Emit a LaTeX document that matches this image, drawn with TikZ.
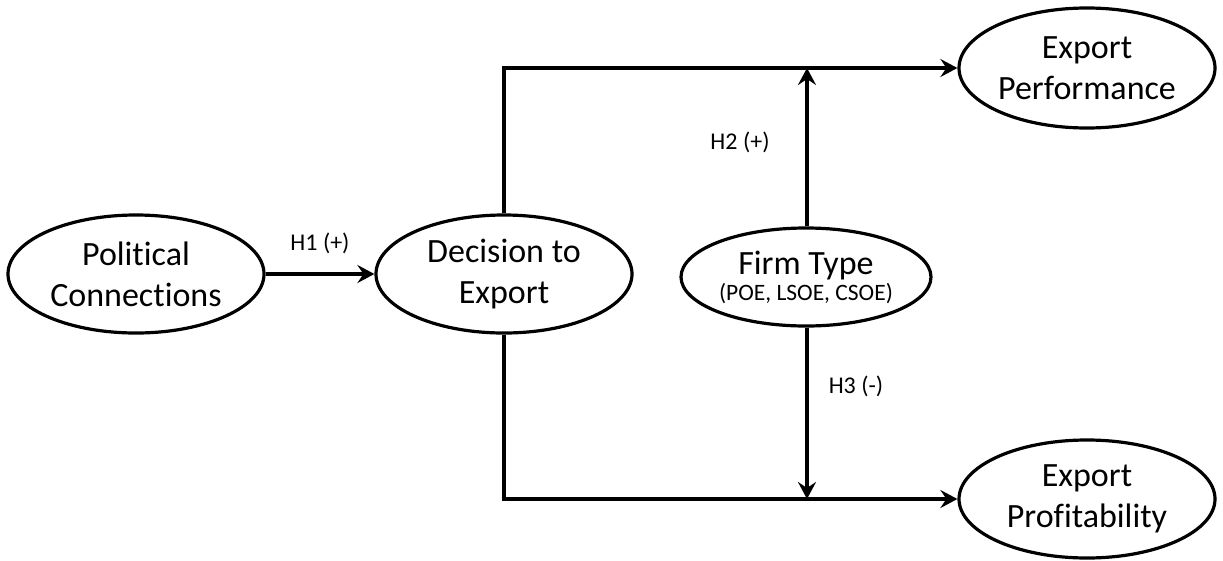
\documentclass[tikz,border=0pt]{standalone}
\usepackage{fontspec}
\setmainfont[Ligatures={NoCommon}]{Carlito}
\usetikzlibrary{shapes.geometric,arrows.meta}
\tikzset{
  oval/.style={ellipse, draw=black, line width=3.2pt, inner sep=0pt, align=center,
    minimum width=256pt, minimum height=118pt,
    font=\fontsize{34}{41}\selectfont},
  arr/.style={line width=3.2pt, -{Stealth[length=17pt,width=18pt,inset=6pt]}},
  lbl/.style={font=\fontsize{24}{28}\selectfont, inner sep=0pt}
}
\begin{document}
\begin{tikzpicture}[x=1pt,y=-1pt]
\useasboundingbox (0,0) rectangle (1223,560);
\node[oval] (pol) at (136,274) {Political\\Connections};
\node[oval] (dec) at (504,274) {Decision to\\Export};
\node[oval, minimum width=250pt, minimum height=98pt,
  font=\fontsize{34}{26}\selectfont] (firm) at (806,277)
  {Firm Type\\{\fontsize{23.5}{26}\selectfont (POE, LSOE, CSOE)}};
\node[oval, minimum height=120pt] (perf) at (1087,68) {Export\\Performance};
\node[oval, minimum height=118pt] (prof) at (1087,499) {Export\\Profitability};
\coordinate (tjoin) at (807,68);
\coordinate (bjoin) at (807,499);
\draw[arr] (pol.east) -- (dec.west);
\draw[arr] (dec.north) |- (perf.west);
\draw[arr] (dec.south) |- (prof.west);
\draw[arr] (firm.north -| tjoin) -- (tjoin);
\draw[arr] (firm.south -| bjoin) -- (bjoin);
\node[lbl] (h1) at (320,243) {H1 (+)};
\node[lbl] (h2) at (740,142) {H2 (+)};
\node[lbl] (h3) at (856,386) {H3 (-)};
\end{tikzpicture}
\end{document}
